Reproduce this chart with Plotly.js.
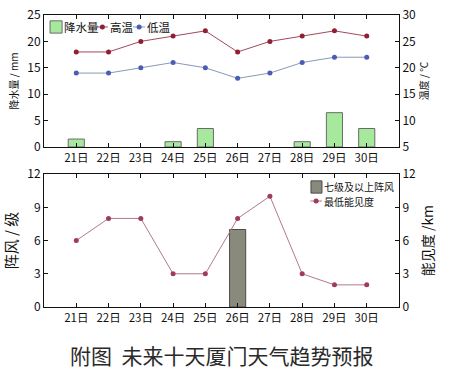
<!DOCTYPE html>
<html>
<head>
<meta charset="utf-8">
<script src="https://cdn.plot.ly/plotly-3.0.1.min.js"></script>
<style>html,body{margin:0;padding:0;background:#fff;}#chart{width:451px;height:382px;}</style>
</head>
<body>
<div id="chart"></div>
<script>
const dates = ['21日','22日','23日','24日','25日','26日','27日','28日','29日','30日'];
const rain = [1.5, null, null, 1, 3.5, null, null, 1, 6.5, 3.5];
const highT = [23, 23, 25, 26, 27, 23, 25, 26, 27, 26];
const lowT = [19, 19, 20, 21, 20, 18, 19, 21, 22, 22];
const gust = [null, null, null, null, null, 7, null, null, null, null];
const vis = [6, 8, 8, 3, 3, 8, 10, 3, 2, 2];

const F = '"Noto Sans CJK SC", "DejaVu Sans", sans-serif';
const C = {rainFill:'#a6e99c', rainLine:'#6a6a6a', highLine:'#a04a5a', highMk:'#8e1f35',
  lowLine:'#8a98b8', lowMk:'#4a5db5', gustFill:'#8a8a7c', gustLine:'#4a4a4a',
  visLine:'#b07a8a', visMk:'#a03a62'};
const traces = [
  {type:'bar', x:dates, y:rain, name:'降水量', width:0.5, xaxis:'x', yaxis:'y',
   marker:{color:C.rainFill, line:{color:C.rainLine, width:1}}},
  {type:'scatter', mode:'lines+markers', x:dates, y:highT, name:'高温', xaxis:'x', yaxis:'y2',
   line:{color:C.highLine, width:1}, marker:{color:C.highMk, size:5}},
  {type:'scatter', mode:'lines+markers', x:dates, y:lowT, name:'低温', xaxis:'x', yaxis:'y2',
   line:{color:C.lowLine, width:1}, marker:{color:C.lowMk, size:5}},
  {type:'bar', x:dates, y:gust, name:'七级及以上阵风', width:0.5, xaxis:'x2', yaxis:'y3',
   marker:{color:C.gustFill, line:{color:C.gustLine, width:1}}},
  {type:'scatter', mode:'lines+markers', x:dates, y:vis, name:'最低能见度', xaxis:'x2', yaxis:'y4',
   line:{color:C.visLine, width:1}, marker:{color:C.visMk, size:5}}
];

const axBase = {showline:true, linecolor:'#111', linewidth:1, ticks:'inside', ticklen:4,
  tickcolor:'#111', showgrid:false, zeroline:false, tickfont:{family:F, size:12, color:'#111'}};
const xBase = Object.assign({}, axBase, {type:'category', range:[-1,10], mirror:'ticks',
  categoryorder:'array', categoryarray:dates, tickfont:{family:F, size:11.5, color:'#111'}});

// compact legends (paper coordinates)
const P = {xref:'paper', yref:'paper'};
const rectSw = (x0, x1, y0, y1, fill, line) => Object.assign({type:'rect', x0, x1, y0, y1,
  fillcolor:fill, line:{color:line, width:1}}, P);
const lineSw = (x0, x1, y, lc, mc) => [
  Object.assign({type:'line', x0, x1, y0:y, y1:y, line:{color:lc, width:1}}, P),
  Object.assign({type:'circle', xsizemode:'pixel', ysizemode:'pixel', xanchor:(x0+x1)/2, yanchor:y,
    x0:-2.5, x1:2.5, y0:-2.5, y1:2.5, fillcolor:mc, line:{width:0}}, P)];
const legText = (t, x, y, s) => Object.assign({text:t, x, y, xanchor:'left', yanchor:'middle',
  showarrow:false, borderpad:0, font:{family:F, size:s, color:'#111'}}, P);

const LY = 0.959;
const shapes = [
  rectSw(0.017, 0.051, 0.938, 0.980, C.rainFill, C.rainLine),
  ...lineSw(0.149, 0.180, LY, C.highLine, C.highMk),
  ...lineSw(0.251, 0.285, LY, C.lowLine, C.lowMk),
  rectSw(0.752, 0.783, 0.390, 0.432, C.gustFill, C.gustLine),
  ...lineSw(0.750, 0.783, 0.363, C.visLine, C.visMk)
];

const layout = {
  width:451, height:382,
  margin:{l:44, r:52, t:15, b:75},
  paper_bgcolor:'#fff', plot_bgcolor:'#fff',
  font:{family:F},
  showlegend:false,
  xaxis: Object.assign({}, xBase, {domain:[0,1], anchor:'y'}),
  yaxis: Object.assign({}, axBase, {domain:[0.548,1], range:[0,25], dtick:5,
    title:{text:'降水量 / mm', font:{family:F, size:10, color:'#111'}, standoff:6}}),
  yaxis2: Object.assign({}, axBase, {overlaying:'y', side:'right', range:[5,30], dtick:5, anchor:'x',
    title:{text:'温度 / ℃', font:{family:F, size:10, color:'#111'}, standoff:4}}),
  xaxis2: Object.assign({}, xBase, {domain:[0,1], anchor:'y3'}),
  yaxis3: Object.assign({}, axBase, {domain:[0,0.455], range:[0,12], dtick:3, anchor:'x2',
    title:{text:'阵风 / 级', font:{family:F, size:15, color:'#111'}, standoff:6}}),
  yaxis4: Object.assign({}, axBase, {overlaying:'y3', side:'right', range:[0,12], dtick:3, anchor:'x2',
    title:{text:'能见度 /km', font:{family:F, size:14, color:'#111'}, standoff:8}}),
  shapes: shapes,
  annotations:[
    legText('降水量', 0.053, LY, 11.5), legText('高温', 0.183, LY, 11.5), legText('低温', 0.287, LY, 11.5),
    legText('七级及以上阵风', 0.785, 0.411, 10), legText('最低能见度', 0.785, 0.363, 10),
    Object.assign({text:'附图  未来十天厦门天气趋势预报', x:0.5, y:-0.165,
    xanchor:'center', yanchor:'middle', showarrow:false,
    font:{family:F, size:21, color:'#2a2a2a'}}, P)]
};

Plotly.newPlot('chart', traces, layout, {staticPlot:true});
</script>
</body>
</html>
